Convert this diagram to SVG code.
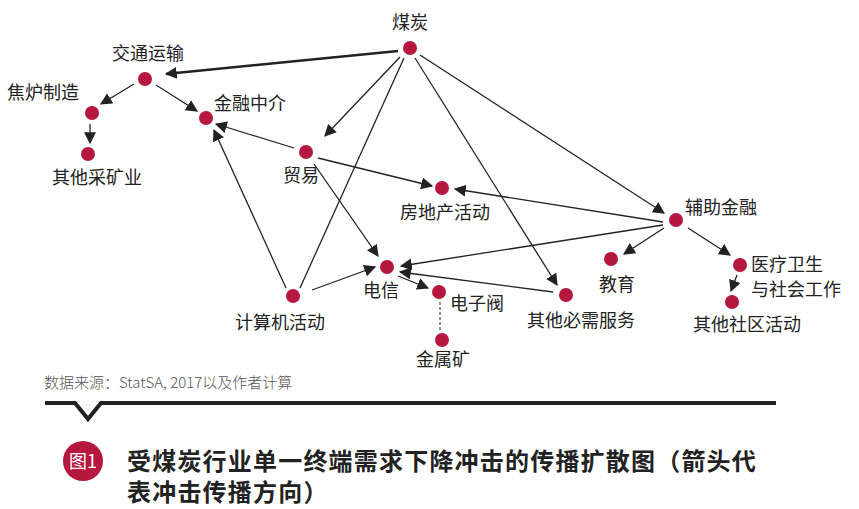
<svg xmlns="http://www.w3.org/2000/svg" width="859" height="509" viewBox="0 0 859 509">
<style>
.n{fill:#b5173f}
.t{font-family:"Noto Sans CJK SC","Liberation Sans",sans-serif;font-size:18px;fill:#222}
.e{stroke:#222;stroke-width:1.3;fill:none;marker-end:url(#a)}
.l{stroke:#222;stroke-width:1.3;fill:none}
.h{font-family:"Noto Sans CJK SC",sans-serif;font-size:24px;font-weight:bold;fill:#222;letter-spacing:1.2px}
</style>
<defs><marker id="a" viewBox="0 0 10 10" refX="9" refY="5" markerWidth="12" markerHeight="12" markerUnits="userSpaceOnUse" orient="auto"><path d="M0,0L10,5L0,10z" fill="#222"/></marker></defs>
<rect width="859" height="509" fill="#fff"/>
<g id="edges">
<path class="e" d="M398,51L166,74" style="stroke-width:2.5"/>
<path class="e" d="M400,57L325,136"/>
<path class="l" d="M404,58L300,288"/>
<path class="e" d="M415,58L557,285"/>
<path class="e" d="M420,55L664,213"/>
<path class="e" d="M134,84L101,104"/>
<path class="e" d="M156,85L197,111"/>
<path class="e" d="M90,124L90,143"/>
<path class="e" d="M294,148L216,124"/>
<path class="e" d="M318,158L432,186"/>
<path class="e" d="M314,164L378,256"/>
<path class="e" d="M286,288L214,130"/>
<path class="e" d="M312,290L375,267"/>
<path class="e" d="M663,222L455,189"/>
<path class="e" d="M663,225L401,266"/>
<path class="e" d="M664,228L624,254"/>
<path class="e" d="M688,228L730,255"/>
<path class="e" d="M398,276L428,288"/>
<path class="e" d="M553,292L400,272"/>
<path class="e" d="M737,275L731,291"/>
<path class="l" d="M440,302L440,330" style="stroke-dasharray:3,2;stroke-width:1"/>
</g>
<g id="n1"><circle class="n" cx="410" cy="48" r="7"/><text class="t" x="410" y="29" text-anchor="middle">煤炭</text></g>
<g id="n2"><circle class="n" cx="145" cy="79" r="7"/><text class="t" x="148" y="60" text-anchor="middle">交通运输</text></g>
<g id="n3"><circle class="n" cx="92" cy="113" r="7"/><text class="t" x="7" y="99">焦炉制造</text></g>
<g id="n4"><circle class="n" cx="88" cy="154" r="7"/><text class="t" x="52" y="184">其他采矿业</text></g>
<g id="n5"><circle class="n" cx="206" cy="118" r="7"/><text class="t" x="214" y="110">金融中介</text></g>
<g id="n6"><circle class="n" cx="306" cy="152" r="7"/><text class="t" x="283" y="182">贸易</text></g>
<g id="n7"><circle class="n" cx="442" cy="188" r="7"/><text class="t" x="400" y="219">房地产活动</text></g>
<g id="n8"><circle class="n" cx="676" cy="220" r="7"/><text class="t" x="685" y="214">辅助金融</text></g>
<g id="n9"><circle class="n" cx="387" cy="267" r="7"/><text class="t" x="363" y="297">电信</text></g>
<g id="n10"><circle class="n" cx="439" cy="292" r="7"/><text class="t" x="450" y="310">电子阀</text></g>
<g id="n11"><circle class="n" cx="442" cy="340" r="7"/><text class="t" x="416" y="366">金属矿</text></g>
<g id="n12"><circle class="n" cx="293" cy="296" r="7"/><text class="t" x="235" y="329">计算机活动</text></g>
<g id="n13"><circle class="n" cx="566" cy="295" r="7"/><text class="t" x="527" y="327">其他必需服务</text></g>
<g id="n14"><circle class="n" cx="611" cy="259" r="7"/><text class="t" x="599" y="291">教育</text></g>
<g id="n15"><circle class="n" cx="740" cy="265" r="7"/><text class="t" x="751" y="271">医疗卫生</text><text class="t" x="751" y="296">与社会工作</text></g>
<g id="n16"><circle class="n" cx="732" cy="302" r="7"/><text class="t" x="693" y="331">其他社区活动</text></g>
<text x="44" y="388" style="font-family:'Noto Sans CJK SC','Liberation Sans',sans-serif;font-size:15px;font-weight:300;fill:#555">数据来源：StatSA, 2017以及作者计算</text>
<path d="M45,403L75,403L88,419L101,403L776,403" stroke="#222" stroke-width="4" fill="none"/>
<circle cx="83" cy="461" r="20" fill="#b5173f"/>
<text x="83" y="468" text-anchor="middle" style="font-family:'Noto Sans CJK SC',sans-serif;font-size:18px;fill:#fff">图1</text>
<text class="h" x="127" y="470">受煤炭行业单一终端需求下降冲击的传播扩散图（箭头代</text>
<text class="h" x="127" y="501">表冲击传播方向）</text>
</svg>
